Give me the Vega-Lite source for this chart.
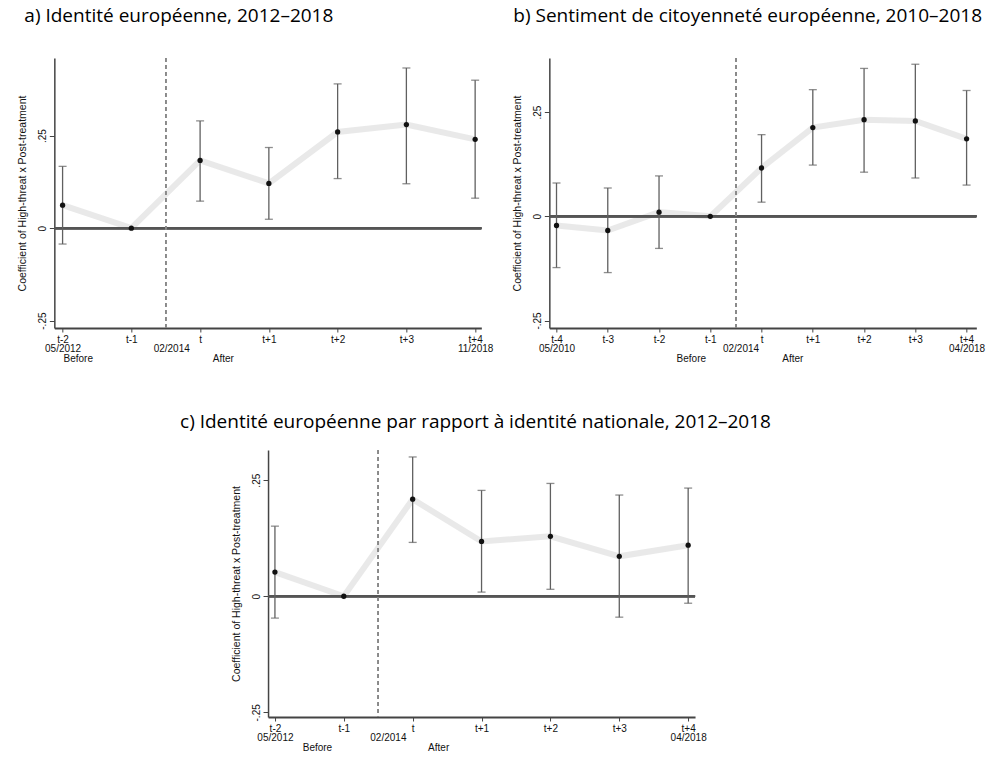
{
  "$schema": "https://vega.github.io/schema/vega-lite/v6.json",
  "padding": {"left": 17, "top": 7, "right": 2, "bottom": 5},
  "background": "white",
  "center": true,
  "spacing": 50,
  "datasets": {
    "a": [
      {"t": -2, "est": 0.062, "lo": -0.043, "hi": 0.167},
      {"t": -1, "est": 0, "lo": null, "hi": null},
      {"t": 0, "est": 0.183, "lo": 0.073, "hi": 0.29},
      {"t": 1, "est": 0.121, "lo": 0.024, "hi": 0.218},
      {"t": 2, "est": 0.26, "lo": 0.134, "hi": 0.39},
      {"t": 3, "est": 0.28, "lo": 0.12, "hi": 0.433},
      {"t": 4, "est": 0.24, "lo": 0.081, "hi": 0.4}
    ],
    "b": [
      {"t": -4, "est": -0.022, "lo": -0.123, "hi": 0.08},
      {"t": -3, "est": -0.034, "lo": -0.135, "hi": 0.068},
      {"t": -2, "est": 0.01, "lo": -0.077, "hi": 0.097},
      {"t": -1, "est": 0, "lo": null, "hi": null},
      {"t": 0, "est": 0.116, "lo": 0.034, "hi": 0.196},
      {"t": 1, "est": 0.213, "lo": 0.123, "hi": 0.304},
      {"t": 2, "est": 0.232, "lo": 0.106, "hi": 0.355},
      {"t": 3, "est": 0.229, "lo": 0.092, "hi": 0.365},
      {"t": 4, "est": 0.186, "lo": 0.075, "hi": 0.302}
    ],
    "c": [
      {"t": -2, "est": 0.052, "lo": -0.047, "hi": 0.151},
      {"t": -1, "est": 0, "lo": null, "hi": null},
      {"t": 0, "est": 0.209, "lo": 0.116, "hi": 0.3},
      {"t": 1, "est": 0.118, "lo": 0.009, "hi": 0.228},
      {"t": 2, "est": 0.129, "lo": 0.015, "hi": 0.243},
      {"t": 3, "est": 0.086, "lo": -0.045, "hi": 0.218},
      {"t": 4, "est": 0.11, "lo": -0.015, "hi": 0.233}
    ]
  },
  "vconcat": [
    {
      "spacing": 19,
      "hconcat": [
        {
          "width": 427,
          "height": 270,
          "title": {"text": "a) Identité européenne, 2012–2018", "anchor": "start", "frame": "group", "dx": -30, "offset": 31},
          "data": {"name": "a"},
          "layer": [
            {
              "mark": {"type": "line", "color": "#e4e4e4", "strokeWidth": 6, "opacity": 0.8},
              "encoding": {
                "x": {"field": "t", "type": "quantitative", "title": null,
                  "scale": {"domain": [-2.12, 4.09], "nice": false, "zero": false},
                  "axis": {
                    "values": [-2, -1.78, -1, -0.42, 0, 0.33, 1, 2, 3, 4],
                    "tickCount": 30,
                    "labelExpr": "datum.value == -2 ? ['t-2', '05/2012'] : datum.value == -1.78 ? [' ', 'Before'] : datum.value == -0.42 ? '02/2014' : datum.value == 0.33 ? [' ', 'After'] : datum.value == 4 ? ['t+4', '11/2018'] : datum.value == 0 ? 't' : datum.value < 0 ? 't' + datum.value : 't+' + datum.value",
                    "labelOverlap": false, "labelFlush": false, "labelBound": false,
                    "labelPadding": {"condition": {"test": "datum.value % 1 != 0", "value": 11.5}, "value": 2},
                    "tickOpacity": {"condition": {"test": "datum.value % 1 != 0", "value": 0}, "value": 1}
                  }
                },
                "y": {"field": "est", "type": "quantitative", "title": "Coefficient of High-threat x Post-treatment",
                  "scale": {"domain": [-0.27, 0.46], "nice": false, "zero": false},
                  "axis": {"values": [-0.25, 0, 0.25], "labelExpr": "datum.value == 0 ? '0' : datum.value > 0 ? '.25' : '-.25'"}
                }
              }
            },
            {"mark": {"type": "rule", "color": "#555", "strokeWidth": 2}, "encoding": {"y": {"datum": 0}}},
            {"mark": {"type": "rule", "color": "#8a8a8a", "strokeWidth": 1.2, "strokeDash": [4, 3]}, "encoding": {"x": {"datum": -0.5}}},
            {
              "transform": [{"filter": "datum.lo != null"}],
              "mark": {"type": "errorbar", "color": "#606060", "thickness": 1.3, "ticks": {"size": 8}},
              "encoding": {
                "x": {"field": "t", "type": "quantitative"},
                "y": {"field": "lo", "type": "quantitative", "title": "Coefficient of High-threat x Post-treatment"},
                "y2": {"field": "hi"}
              }
            },
            {
              "mark": {"type": "point", "filled": true, "color": "#111", "size": 28, "opacity": 1},
              "encoding": {
                "x": {"field": "t", "type": "quantitative"},
                "y": {"field": "est", "type": "quantitative", "title": "Coefficient of High-threat x Post-treatment"}
              }
            }
          ]
        },
        {
          "width": 427,
          "height": 270,
          "title": {"text": "b) Sentiment de citoyenneté européenne, 2010–2018", "anchor": "start", "frame": "group", "dx": -36, "offset": 31},
          "data": {"name": "b"},
          "layer": [
            {
              "mark": {"type": "line", "color": "#e4e4e4", "strokeWidth": 6, "opacity": 0.8},
              "encoding": {
                "x": {"field": "t", "type": "quantitative", "title": null,
                  "scale": {"domain": [-4.14, 4.19], "nice": false, "zero": false},
                  "axis": {
                    "values": [-4, -3, -2, -1.38, -1, -0.41, 0, 0.6, 1, 2, 3, 4],
                    "tickCount": 30,
                    "labelExpr": "datum.value == -4 ? ['t-4', '05/2010'] : datum.value == -1.38 ? [' ', 'Before'] : datum.value == -0.41 ? '02/2014' : datum.value == 0.6 ? [' ', 'After'] : datum.value == 4 ? ['t+4', '04/2018'] : datum.value == 0 ? 't' : datum.value < 0 ? 't' + datum.value : 't+' + datum.value",
                    "labelOverlap": false, "labelFlush": false, "labelBound": false,
                    "labelPadding": {"condition": {"test": "datum.value % 1 != 0", "value": 11.5}, "value": 2},
                    "tickOpacity": {"condition": {"test": "datum.value % 1 != 0", "value": 0}, "value": 1}
                  }
                },
                "y": {"field": "est", "type": "quantitative", "title": "Coefficient of High-threat x Post-treatment",
                  "scale": {"domain": [-0.268, 0.38], "nice": false, "zero": false},
                  "axis": {"values": [-0.25, 0, 0.25], "labelExpr": "datum.value == 0 ? '0' : datum.value > 0 ? '.25' : '-.25'"}
                }
              }
            },
            {"mark": {"type": "rule", "color": "#555", "strokeWidth": 2}, "encoding": {"y": {"datum": 0}}},
            {"mark": {"type": "rule", "color": "#8a8a8a", "strokeWidth": 1.2, "strokeDash": [4, 3]}, "encoding": {"x": {"datum": -0.5}}},
            {
              "transform": [{"filter": "datum.lo != null"}],
              "mark": {"type": "errorbar", "color": "#606060", "thickness": 1.3, "ticks": {"size": 8}},
              "encoding": {
                "x": {"field": "t", "type": "quantitative"},
                "y": {"field": "lo", "type": "quantitative", "title": "Coefficient of High-threat x Post-treatment"},
                "y2": {"field": "hi"}
              }
            },
            {
              "mark": {"type": "point", "filled": true, "color": "#111", "size": 28, "opacity": 1},
              "encoding": {
                "x": {"field": "t", "type": "quantitative"},
                "y": {"field": "est", "type": "quantitative", "title": "Coefficient of High-threat x Post-treatment"}
              }
            }
          ]
        }
      ]
    },
    {
      "width": 427,
      "height": 267,
      "title": {"text": "c) Identité européenne par rapport à identité nationale, 2012–2018", "anchor": "start", "frame": "group", "dx": -88, "offset": 17},
      "data": {"name": "c"},
      "layer": [
        {
          "mark": {"type": "line", "color": "#e4e4e4", "strokeWidth": 6, "opacity": 0.8},
          "encoding": {
            "x": {"field": "t", "type": "quantitative", "title": null,
              "scale": {"domain": [-2.1, 4.1], "nice": false, "zero": false},
              "axis": {
                "values": [-2, -1.39, -1, -0.36, 0, 0.37, 1, 2, 3, 4],
                "tickCount": 30,
                "labelExpr": "datum.value == -2 ? ['t-2', '05/2012'] : datum.value == -1.39 ? [' ', 'Before'] : datum.value == -0.36 ? '02/2014' : datum.value == 0.37 ? [' ', 'After'] : datum.value == 4 ? ['t+4', '04/2018'] : datum.value == 0 ? 't' : datum.value < 0 ? 't' + datum.value : 't+' + datum.value",
                "labelOverlap": false, "labelFlush": false, "labelBound": false,
                "labelPadding": {"condition": {"test": "datum.value % 1 != 0", "value": 11.5}, "value": 2},
                "tickOpacity": {"condition": {"test": "datum.value % 1 != 0", "value": 0}, "value": 1}
              }
            },
            "y": {"field": "est", "type": "quantitative", "title": "Coefficient of High-threat x Post-treatment",
              "scale": {"domain": [-0.26, 0.315], "nice": false, "zero": false},
              "axis": {"values": [-0.25, 0, 0.25], "labelExpr": "datum.value == 0 ? '0' : datum.value > 0 ? '.25' : '-.25'"}
            }
          }
        },
        {"mark": {"type": "rule", "color": "#555", "strokeWidth": 2}, "encoding": {"y": {"datum": 0}}},
        {"mark": {"type": "rule", "color": "#8a8a8a", "strokeWidth": 1.2, "strokeDash": [4, 3]}, "encoding": {"x": {"datum": -0.5}}},
        {
          "transform": [{"filter": "datum.lo != null"}],
          "mark": {"type": "errorbar", "color": "#606060", "thickness": 1.3, "ticks": {"size": 8}},
          "encoding": {
            "x": {"field": "t", "type": "quantitative"},
            "y": {"field": "lo", "type": "quantitative", "title": "Coefficient of High-threat x Post-treatment"},
            "y2": {"field": "hi"}
          }
        },
        {
          "mark": {"type": "point", "filled": true, "color": "#111", "size": 28, "opacity": 1},
          "encoding": {
            "x": {"field": "t", "type": "quantitative"},
            "y": {"field": "est", "type": "quantitative", "title": "Coefficient of High-threat x Post-treatment"}
          }
        }
      ]
    }
  ],
  "config": {
    "view": {"stroke": null},
    "title": {"font": "Open Sans", "fontSize": 19, "fontWeight": "normal", "color": "#000"},
    "axis": {
      "grid": false,
      "domainColor": "#444",
      "tickColor": "#444",
      "labelFont": "Liberation Sans",
      "titleFont": "Liberation Sans",
      "labelColor": "#111",
      "titleColor": "#111",
      "titleFontWeight": "normal"
    },
    "axisX": {
      "domainWidth": 2,
      "tickSize": 4,
      "labelFontSize": 10,
      "labelLineHeight": 9.5
    },
    "axisY": {
      "domainWidth": 1.5,
      "tickSize": 5,
      "labelAngle": 270,
      "labelFontSize": 10,
      "labelPadding": 2,
      "titleFontSize": 10.5,
      "titlePadding": 10
    }
  }
}
